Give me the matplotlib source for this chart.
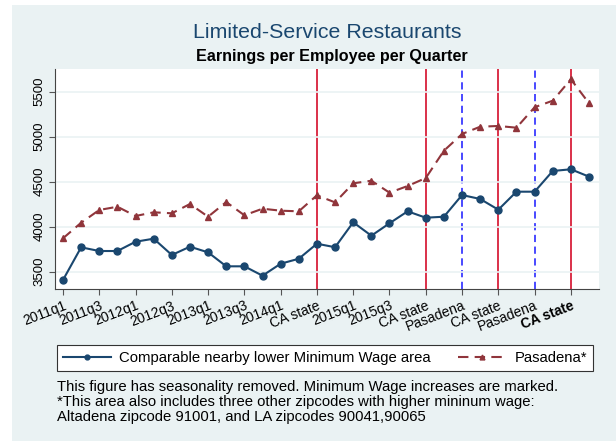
import numpy as np
import matplotlib.pyplot as plt
from matplotlib.patches import Rectangle

plt.rcParams['font.family'] = ['Liberation Sans', 'DejaVu Sans']

# quarters 2011q1 .. 2018q2
quarter = np.arange(30)
comparable = [3408, 3771, 3730, 3730, 3833, 3867, 3686, 3778, 3715, 3560,
              3560, 3456, 3589, 3644, 3811, 3772, 4049, 3900, 4038, 4171,
              4100, 4111, 4352, 4308, 4189, 4389, 4389, 4619, 4638, 4556]
pasadena = [3871, 4044, 4186, 4222, 4119, 4160, 4149, 4252, 4111, 4274,
            4127, 4200, 4178, 4171, 4349, 4270, 4482, 4511, 4378, 4452,
            4541, 4844, 5030, 5111, 5119, 5100, 5327, 5400, 5638, 5371]
tick_pos = np.arange(0, 30, 2)
tick_labels = ['2011q1', '2011q3', '2012q1', '2012q3', '2013q1', '2013q3',
               '2014q1', 'CA state', '2015q1', '2015q3', 'CA state',
               'Pasadena', 'CA state', 'Pasadena', 'CA state']
ca_increases = [14, 20, 24, 28]
pasadena_increases = [22, 26]
yticks = [3500, 4000, 4500, 5000, 5500]

navy = '#1a476f'
maroon = '#90353b'
bg = '#eaf2f3'

fig = plt.figure(figsize=(6.16, 4.41), dpi=100, facecolor='white')
fig.patches.append(Rectangle((12/616, 0), 1, 1 - 5/441, transform=fig.transFigure,
                             facecolor=bg, edgecolor='none', zorder=-10))
ax = fig.add_axes([55/616, (441-289)/441, 544/616, 220/441])
ax.set_facecolor('white')

for v in ca_increases:
    ax.axvline(v, color='#d8203a', lw=1.3, zorder=1)
for v in pasadena_increases:
    ax.axvline(v, color='#3a3aff', lw=1.3, ls=(0, (4, 2.5)), zorder=1)

ax.plot(quarter, comparable, color=navy, lw=1.5, marker='o', ms=5,
        label='Comparable nearby lower Minimum Wage area', zorder=3)
ax.plot(quarter, pasadena, color=maroon, lw=1.5, ls=(0, (5, 3)), marker='^', ms=5,
        label='Pasadena*', zorder=3)

ax.set_xlim(-0.44, 29.55)
ax.set_ylim(3308, 5752)
ax.set_yticks(yticks)
ax.set_yticklabels([str(t) for t in yticks], rotation=90, va='center', fontsize=9.5)
ax.set_xticks(tick_pos)
ax.set_xticklabels(tick_labels, rotation=21, ha='right', rotation_mode='anchor', fontsize=10)
ax.get_xticklabels()[-1].set_fontweight('semibold')
ax.grid(axis='y', color=bg, lw=1.2, zorder=0)
ax.tick_params(axis='both', direction='out', length=4, color='#555555', pad=3)
ax.tick_params(axis='x', pad=3)
for s in ['top', 'right']:
    ax.spines[s].set_visible(False)
for s in ['left', 'bottom']:
    ax.spines[s].set_color('#444444')

fig.text(327/616, 1 - 33/441, 'Limited-Service Restaurants', ha='center', va='center',
         fontsize=15.4, color=navy)
fig.text(332/616, 1 - 57/441, 'Earnings per Employee per Quarter', ha='center', va='center',
         fontsize=11.6, fontweight='bold')

leg = ax.legend(loc='center', bbox_to_anchor=(57/616, (441-372)/441, 536/616, 28/441),
                bbox_transform=fig.transFigure, ncol=2, mode='expand', fontsize=10.7,
                fancybox=False, edgecolor='#333333', framealpha=1, handlelength=3.2,
                borderaxespad=0, markerscale=0.7, handletextpad=0.6)
leg.get_frame().set_linewidth(0.8)

notes = ['This figure has seasonality removed. Minimum Wage increases are marked.',
         '*This area also includes three other zipcodes with higher mininum wage:',
         'Altadena zipcode 91001, and LA zipcodes 90041,90065']
for i, line in enumerate(notes):
    fig.text(57/616, 1 - (387 + 15*i)/441, line, ha='left', va='center', fontsize=10.7)

plt.savefig('out.png', dpi=100, facecolor=fig.get_facecolor())
